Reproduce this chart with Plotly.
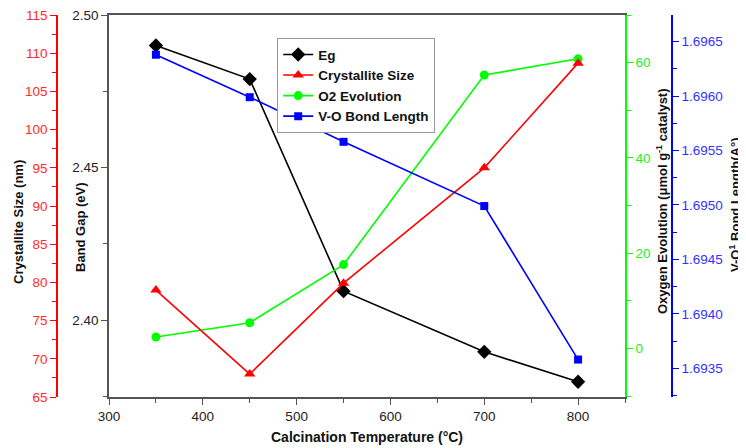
import plotly.graph_objects as go

temps = [350, 450, 550, 700, 800]
band_gap = [2.490, 2.479, 2.4095, 2.3896, 2.3798]
crystallite = [79.0, 68.0, 79.9, 95.0, 108.7]
o2_evolution = [2.4, 5.4, 17.6, 57.4, 60.8]
vo_bond = [1.69638, 1.69599, 1.69558, 1.69499, 1.69358]

# the page body adds an 8px margin; work in screenshot pixels and convert
OFF = 8
W, H = 746 - OFF, 448 - OFF
L, R, T, B = 109, 625, 15, 397  # plot area in screenshot pixels

def px(x):
    return (x - OFF) / W

def py(y):
    return 1 - (y - T) / (B - T)

RED = "#ff0000"
GREEN = "#00ff00"
BLUE = "#0000ff"
FONT = "Liberation Sans, Arial, sans-serif"
TF = 13.5

fig = go.Figure()
fig.add_trace(go.Scatter(x=temps, y=band_gap, name="Eg", mode="lines+markers",
                         line=dict(color="black", width=1.6),
                         marker=dict(symbol="diamond", size=11, color="black"),
                         yaxis="y", xaxis="x"))
fig.add_trace(go.Scatter(x=temps, y=crystallite, name="Crystallite Size", mode="lines+markers",
                         line=dict(color=RED, width=1.6),
                         marker=dict(symbol="triangle-up", size=10, color=RED),
                         yaxis="y3", xaxis="x"))
fig.add_trace(go.Scatter(x=temps, y=o2_evolution, name="O2 Evolution", mode="lines+markers",
                         line=dict(color=GREEN, width=1.6),
                         marker=dict(symbol="circle", size=9, color=GREEN),
                         yaxis="y2", xaxis="x"))
fig.add_trace(go.Scatter(x=temps, y=vo_bond, name="V-O Bond Length", mode="lines+markers",
                         line=dict(color=BLUE, width=1.6),
                         marker=dict(symbol="square", size=8, color=BLUE),
                         yaxis="y4", xaxis="x"))

common = dict(showgrid=False, zeroline=False, showline=True, ticks="outside",
              ticklen=6, tickwidth=1.2, linewidth=1.6, automargin=False,
              ticklabeloverflow="allow")

fig.update_layout(
    width=W, height=H,
    margin=dict(l=0, r=0, t=T - OFF, b=(H + OFF) - B, pad=0, autoexpand=False),
    paper_bgcolor="white", plot_bgcolor="white",
    font=dict(family=FONT, size=TF, color="#222"),
    showlegend=True,
    legend=dict(x=px(277), y=py(38), xanchor="left", yanchor="top",
                bordercolor="#999", borderwidth=1.2, bgcolor="white",
                font=dict(family=FONT, size=13.5, color="#111", weight="bold"),
                tracegroupgap=0, itemwidth=30),
    xaxis=dict(domain=[px(L), px(R)], range=[300, 850], dtick=100, tick0=300,
               linecolor="#555", tickcolor="#555", mirror=True,
               tickfont=dict(size=TF, color="#222"),
               minor=dict(dtick=50, ticklen=4, tickcolor="#555", ticks="outside"),
               **common),
    yaxis=dict(domain=[0, 1], range=[2.3748, 2.50], dtick=0.05, tick0=2.40, tickformat=".2f",
               linecolor="#555", tickcolor="#555", anchor="x", side="left",
               tickfont=dict(size=TF, color="#222"),
               minor=dict(dtick=0.025, ticklen=4, tickcolor="#555", ticks="outside"),
               **common),
    yaxis2=dict(range=[-10.2, 70.0], dtick=20, tick0=0, overlaying="y", anchor="x", side="right",
                linecolor=GREEN, tickcolor=GREEN,
                tickfont=dict(size=TF, color="#22ee22"),
                minor=dict(dtick=10, ticklen=4, tickcolor=GREEN, ticks="outside"),
                **common),
    yaxis3=dict(range=[65, 115], dtick=5, tick0=65, overlaying="y", anchor="free",
                position=px(57), side="left",
                linecolor=RED, tickcolor=RED,
                tickfont=dict(size=TF, color="#ff2a2a"),
                minor=dict(dtick=2.5, ticklen=4, tickcolor=RED, ticks="outside"),
                **common),
    yaxis4=dict(range=[1.693236, 1.696745], dtick=0.0005, tick0=1.6935, tickformat=".4f",
                overlaying="y", anchor="free", position=px(672), side="right",
                linecolor=BLUE, tickcolor=BLUE,
                tickfont=dict(size=TF, color="#3333ff"),
                minor=dict(dtick=0.00025, ticklen=4, tickcolor=BLUE, ticks="outside"),
                **common),
)

tfont = dict(family=FONT, size=13, color="#111", weight="bold")
ann = [
    dict(text="Crystallite Size (nm)", x=px(18), y=py(222), textangle=-90),
    dict(text="Band Gap (eV)", x=px(80), y=py(227), textangle=-90),
    dict(text="Oxygen Evolution (μmol g<sup>-1</sup> catalyst)", x=px(662), y=py(201), textangle=-90),
    dict(text="V-O<sup>1</sup> Bond Length(A°)", x=px(735), y=py(205), textangle=-90),
    dict(text="Calcination Temperature (°C)", x=px(367), y=py(437), textangle=0,
         font=dict(family=FONT, size=14, color="#111", weight="bold")),
]
for a in ann:
    f = a.pop("font", tfont)
    fig.add_annotation(xref="paper", yref="paper", showarrow=False,
                       xanchor="center", yanchor="middle", font=f, **a)

fig.write_html("out.html")
